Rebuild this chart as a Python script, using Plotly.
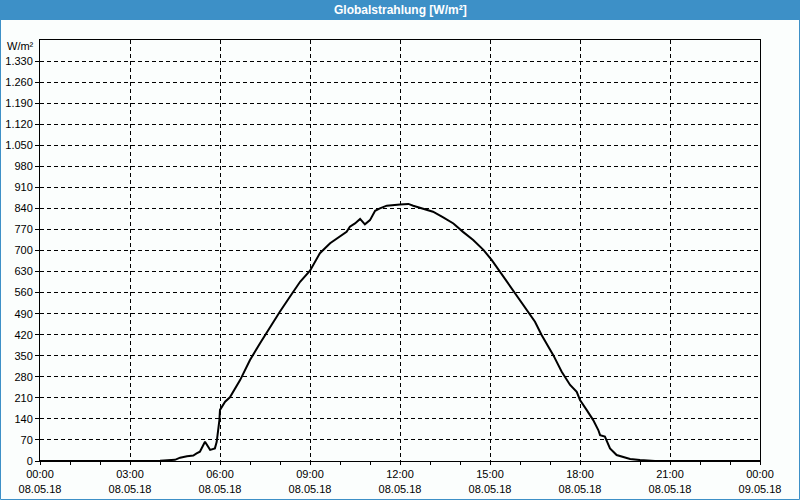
import plotly.graph_objects as go

# --- data ---
hours = [0, 1, 2, 3, 4, 4.5, 4.67, 4.9, 5.11, 5.22, 5.33, 5.5, 5.67, 5.83, 5.89,
         5.98, 6.0, 6.17, 6.33, 6.67, 7.0, 7.33, 7.67, 8.0, 8.33, 8.67, 9.0, 9.33,
         9.67, 10.0, 10.22, 10.33, 10.5, 10.67, 10.83, 11.0, 11.17, 11.33, 11.56,
         12.0, 12.28, 12.44, 12.78, 13.1, 13.44, 13.78, 14.1, 14.44, 14.78, 15.06,
         15.33, 15.83, 16.28, 16.5, 16.72, 17.11, 17.39, 17.56, 17.67, 17.89, 18.0,
         18.22, 18.44, 18.61, 18.67, 18.83, 19.0, 19.22, 19.56, 19.67, 20.0, 20.5, 24]
values = [0, 0, 0, 0, 1, 4, 11, 16, 18, 25, 31, 64, 37, 42, 64,
          136, 170, 197, 212, 269, 336, 391, 447, 497, 546, 596, 633, 691,
          724, 746, 762, 779, 790, 805, 787, 801, 832, 840, 849,
          853, 855, 849, 840, 829, 810, 790, 762, 735, 702, 668,
          630, 558, 497, 463, 419, 352, 297, 269, 253, 230, 203,
          170, 136, 103, 86, 81, 42, 20, 12, 7, 3, 0, 0]

x_tickvals = [0, 3, 6, 9, 12, 15, 18, 21, 24]
x_times = ["00:00", "03:00", "06:00", "09:00", "12:00", "15:00", "18:00", "21:00", "00:00"]
x_dates = ["08.05.18"] * 8 + ["09.05.18"]
y_tickvals = list(range(0, 1331, 70))
y_ticktext = [f"{v:,}".replace(",", ".") for v in y_tickvals]

title = "Globalstrahlung [W/m²]"
unit = "W/m²"

FONT = "Liberation Sans"

fig = go.Figure()
fig.add_trace(go.Scatter(x=hours, y=values, mode="lines",
                         line=dict(color="black", width=2), hoverinfo="skip"))

fig.update_layout(
    width=800, height=500,
    margin=dict(l=40, r=40, t=40, b=39, autoexpand=False),
    paper_bgcolor="#fbfefd", plot_bgcolor="#fbfefd",
    showlegend=False,
    font=dict(family=FONT, size=11, color="black"),
    xaxis=dict(
        range=[0, 24], tickvals=x_tickvals,
        ticktext=[f"{t}<br>{d}" for t, d in zip(x_times, x_dates)],
        showgrid=True, gridcolor="black", gridwidth=1, griddash="4px,3px",
        zeroline=False, showline=True, linecolor="black", linewidth=1, mirror=True,
        ticks="outside", ticklen=3, tickcolor="black",
        minor=dict(dtick=1, ticks="outside", ticklen=3, tickcolor="black", showgrid=False),
        tickfont=dict(family=FONT, size=11, color="black"),
        automargin=False, fixedrange=True,
    ),
    yaxis=dict(
        range=[0, 1400], tickvals=y_tickvals, ticktext=y_ticktext,
        showgrid=True, gridcolor="black", gridwidth=1, griddash="4px,3px",
        zeroline=False, showline=True, linecolor="black", linewidth=1, mirror=True,
        ticks="outside", ticklen=4, tickcolor="black",
        tickfont=dict(family=FONT, size=11, color="black"),
        automargin=False, fixedrange=True,
    ),
    shapes=[
        dict(type="rect", xref="paper", yref="paper", x0=-0.06, x1=1.06,
             y0=1 + 20 / 421, y1=1 + 40 / 421, fillcolor="#3d90c7", line_width=0, layer="below"),
        dict(type="rect", xref="paper", yref="paper", x0=-39.5 / 720, x1=1 + 39.5 / 720,
             y0=-38.5 / 421, y1=1 + 39.5 / 421, line=dict(color="#3d90c7", width=1),
             fillcolor="rgba(0,0,0,0)", layer="above"),
    ],
    annotations=[
        dict(text=f"<b>{title}</b>", xref="paper", yref="paper", x=0.5, y=1 + 30 / 421,
             showarrow=False, font=dict(family=FONT, size=12, color="white"),
             xanchor="center", yanchor="middle"),
        dict(text=unit, xref="paper", yref="paper", x=-4 / 720, y=1 - 6 / 421,
             showarrow=False, font=dict(family=FONT, size=11, color="black"),
             xanchor="right", yanchor="middle"),
    ],
)

fig.write_html("out.html")
